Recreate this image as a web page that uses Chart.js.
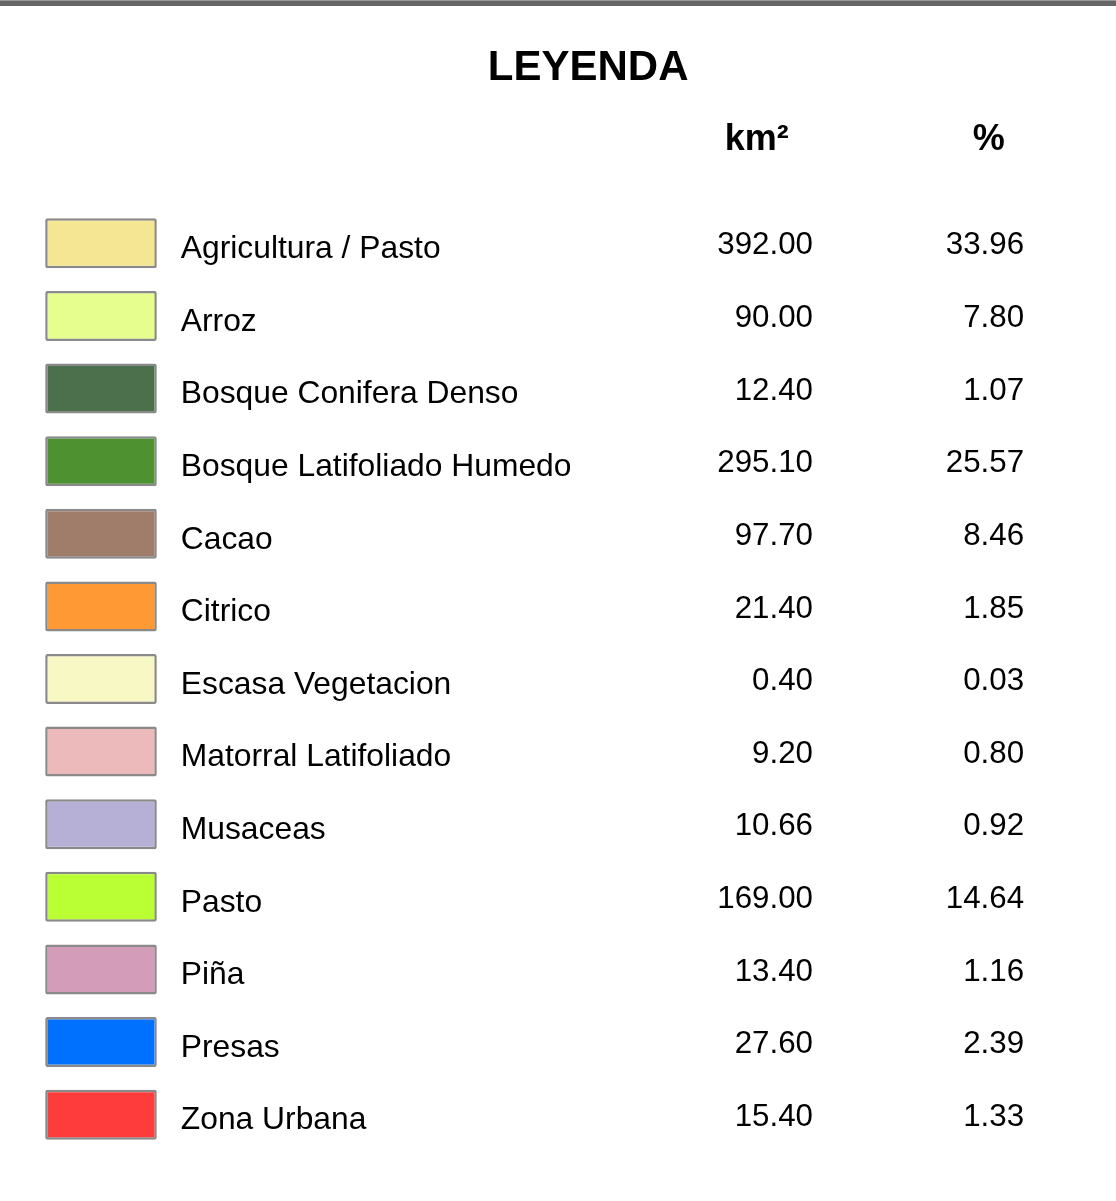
<!DOCTYPE html>
<html>
<head>
<meta charset="utf-8">
<script src="https://cdn.jsdelivr.net/npm/chart.js@4.4.1/dist/chart.umd.min.js"></script>
<style>
	body { margin: 0; background: #ffffff; }
	#legend-canvas { display: block; }
</style>
</head>
<body>
<canvas id="legend-canvas" width="1116" height="1201"></canvas>
<script>
const categories = ["Agricultura / Pasto", "Arroz", "Bosque Conifera Denso", "Bosque Latifoliado Humedo",
	"Cacao", "Citrico", "Escasa Vegetacion", "Matorral Latifoliado", "Musaceas", "Pasto", "Piña",
	"Presas", "Zona Urbana"];
const areaKm2 = [392.00, 90.00, 12.40, 295.10, 97.70, 21.40, 0.40, 9.20, 10.66, 169.00, 13.40, 27.60, 15.40];
const percent = [33.96, 7.80, 1.07, 25.57, 8.46, 1.85, 0.03, 0.80, 0.92, 14.64, 1.16, 2.39, 1.33];
const swatchColors = ["#F4E693", "#E6FE8E", "#4B704B", "#4E9130", "#A07C6A", "#FF9933", "#F8F8C4",
	"#ECBABA", "#B6B0D6", "#B9FF33", "#D39DB9", "#0070FF", "#FF3C3C"];
const titleText = "LEYENDA";
const headers = ["km²", "%"];

// layout, in percent of the x scale (0..100)
const SWATCH_FROM = 4.05;
const SWATCH_TO = 14.05;
const LABEL_X = 16.2;
const KM_X = 72.85;
const PCT_X = 91.76;
const TITLE_X = 52.7;
const KM_HEAD_X = 67.8;
const PCT_HEAD_X = 88.6;
const FONT = "'Liberation Sans', Arial, sans-serif";

const tablePlugin = {
	id: "legendTable",
	beforeDraw(chart)
	{
		const ctx = chart.ctx;
		ctx.save();
		ctx.fillStyle = "#ffffff";
		ctx.fillRect(0, 0, chart.width, chart.height);
		ctx.fillStyle = "#9a9a9a";
		ctx.fillRect(0, 0, chart.width, 1);
		ctx.fillStyle = "#666666";
		ctx.fillRect(0, 1, chart.width, 5);
		ctx.restore();
	},
	afterDatasetsDraw(chart)
	{
		const ctx = chart.ctx;
		const x = chart.scales.x;
		const y = chart.scales.y;
		ctx.save();
		ctx.fillStyle = "#000000";
		ctx.textBaseline = "alphabetic";
		ctx.textAlign = "center";
		ctx.font = "bold 42px " + FONT;
		ctx.fillText(titleText, x.getPixelForValue(TITLE_X), 80);
		ctx.font = "bold 36px " + FONT;
		ctx.fillText(headers[0], x.getPixelForValue(KM_HEAD_X), 150);
		ctx.fillText(headers[1], x.getPixelForValue(PCT_HEAD_X), 150);

		ctx.textBaseline = "middle";
		for(let i = 0; i < categories.length; i++)
		{
			const cy = y.getPixelForValue(i);
			ctx.font = "31.8px " + FONT;
			ctx.textAlign = "left";
			ctx.fillText(categories[i], x.getPixelForValue(LABEL_X), cy + 6);
			ctx.font = "31.3px " + FONT;
			ctx.textAlign = "right";
			ctx.fillText(areaKm2[i].toFixed(2), x.getPixelForValue(KM_X), cy + 2.5);
			ctx.fillText(percent[i].toFixed(2), x.getPixelForValue(PCT_X), cy + 2.5);
		}
		ctx.restore();
	}
};

new Chart(document.getElementById("legend-canvas").getContext("2d"),
{
	type: "bar",
	data:
	{
		labels: categories,
		datasets:
		[{
			label: "swatch",
			data: categories.map(() => [SWATCH_FROM, SWATCH_TO]),
			backgroundColor: swatchColors,
			borderColor: "#8a8a8a",
			borderWidth: 2.5,
			borderSkipped: false,
			borderRadius: 2,
			barThickness: 50,
			inflateAmount: 0
		}]
	},
	plugins: [tablePlugin],
	options:
	{
		indexAxis: "y",
		responsive: false,
		animation: false,
		layout: { padding: { top: 207, bottom: 50, left: 0, right: 0 } },
		plugins:
		{
			legend: { display: false },
			tooltip: { enabled: false },
			title: { display: false }
		},
		scales:
		{
			x: { type: "linear", min: 0, max: 100, display: false },
			y: { type: "category", display: false, offset: true }
		}
	}
});
</script>
</body>
</html>
